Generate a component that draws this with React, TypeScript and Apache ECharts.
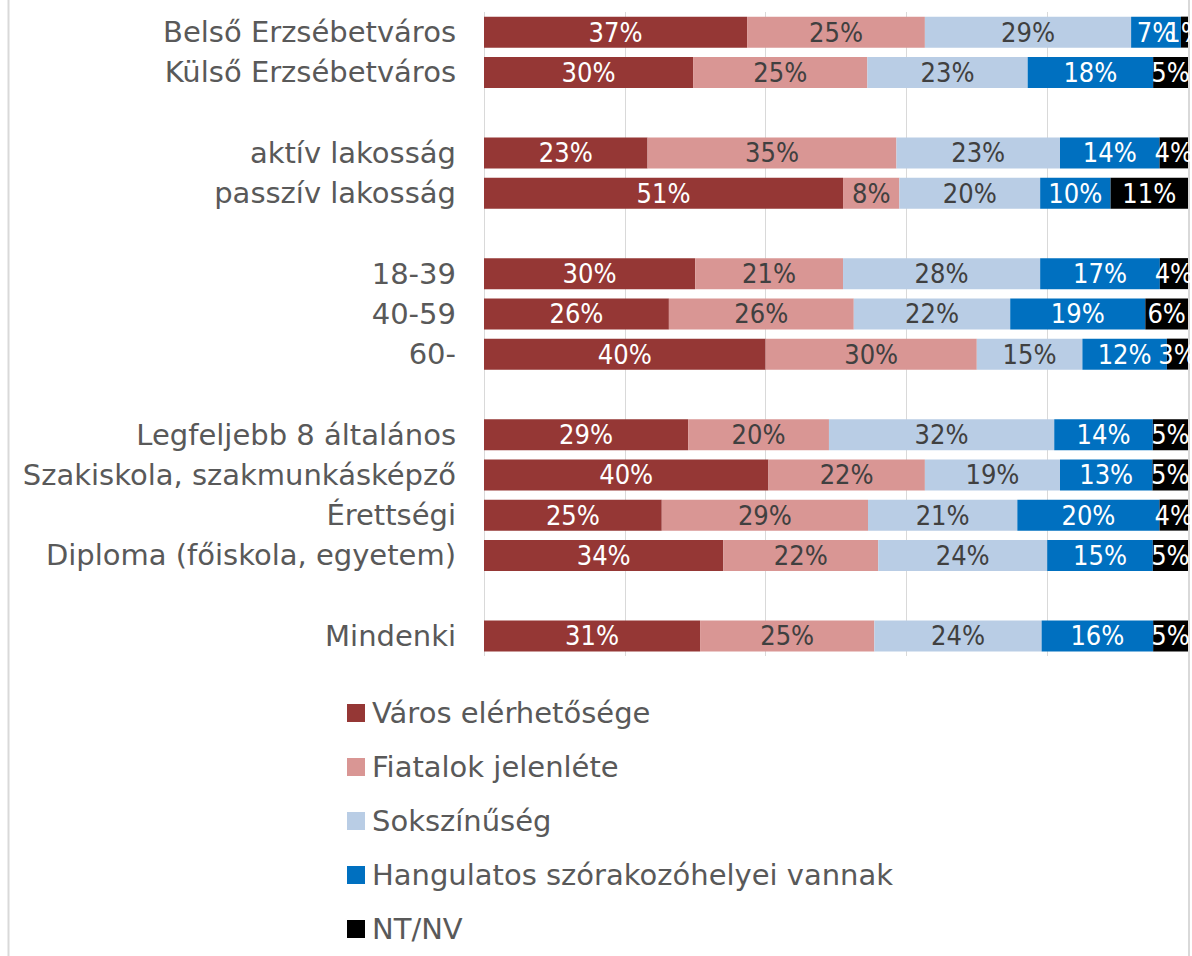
import React, { useEffect, useRef } from "react";
import * as echarts from "echarts";

const categories = [
  "Belső Erzsébetváros",
  "Külső Erzsébetváros",
  "",
  "aktív lakosság",
  "passzív lakosság",
  " ",
  "18-39",
  "40-59",
  "60-",
  "  ",
  "Legfeljebb 8 általános",
  "Szakiskola, szakmunkásképző",
  "Érettségi",
  "Diploma (főiskola, egyetem)",
  "   ",
  "Mindenki",
];

const seriesNames = [
  "Város elérhetősége",
  "Fiatalok jelenléte",
  "Sokszínűség",
  "Hangulatos szórakozóhelyei vannak",
  "NT/NV",
];

const varosElerhetosege = [37, 30, null, 23, 51, null, 30, 26, 40, null, 29, 40, 25, 34, null, 31];
const fiatalokJelenlete = [25, 25, null, 35, 8, null, 21, 26, 30, null, 20, 22, 29, 22, null, 25];
const sokszinuseg = [29, 23, null, 23, 20, null, 28, 22, 15, null, 32, 19, 21, 24, null, 24];
const hangulatos = [7, 18, null, 14, 10, null, 17, 19, 12, null, 14, 13, 20, 15, null, 16];
const ntnv = [1, 5, null, 4, 11, null, 4, 6, 3, null, 5, 5, 4, 5, null, 5];

const colors = ["#953735", "#D99694", "#B9CDE5", "#0070C0", "#000000"];
const labelColors = ["#FFFFFF", "#404040", "#404040", "#FFFFFF", "#FFFFFF"];

export default function App() {
  const ref = useRef<HTMLDivElement>(null);
  useEffect(() => {
    if (!ref.current) return;
    const chart = echarts.init(ref.current, undefined, { renderer: "svg" });
    const all = [varosElerhetosege, fiatalokJelenlete, sokszinuseg, hangulatos, ntnv];
    const totals = categories.map((_, i) =>
      all.reduce((s, arr) => s + (arr[i] == null ? 0 : (arr[i] as number)), 0)
    );
    const series = all.map((arr, si) => ({
      name: seriesNames[si],
      type: "bar",
      stack: "total",
      barWidth: 31,
      itemStyle: { color: colors[si] },
      label: {
        show: true,
        position: "inside",
        color: labelColors[si],
        fontFamily: "DejaVu Sans Condensed",
        fontSize: 27,
        formatter: (p: any) => `${arr[p.dataIndex]}%`,
      },
      labelLayout: { hideOverlap: false },
      data: arr.map((v, i) => (v == null ? null : (v / totals[i]) * 100)),
    }));
    chart.setOption({
      animation: false,
      grid: { left: 484, right: 4, top: 12, bottom: 300, containLabel: false },
      xAxis: {
        type: "value",
        min: 0,
        max: 100,
        interval: 20,
        axisLabel: { show: false },
        axisLine: { show: false },
        axisTick: { show: false },
        splitLine: { show: true, lineStyle: { color: "#D9D9D9", width: 1 } },
      },
      yAxis: {
        type: "category",
        inverse: true,
        data: categories,
        axisLine: { show: false },
        axisTick: { show: false },
        axisLabel: {
          color: "#595959",
          fontSize: 29,
          fontFamily: "DejaVu Sans",
          margin: 28,
        },
      },
      legend: {
        orient: "vertical",
        left: 347,
        top: 698,
        padding: 0,
        itemWidth: 18,
        itemHeight: 18,
        itemGap: 24,
        icon: "rect",
        textStyle: { color: "#595959", fontSize: 29, fontFamily: "DejaVu Sans", lineHeight: 30, padding: [0, 0, 0, 2] },
        data: seriesNames,
      },
      graphic: [
        { type: "line", shape: { x1: 8.5, y1: 0, x2: 8.5, y2: 956 }, style: { stroke: "#D9D9D9", lineWidth: 2 } },
        { type: "line", shape: { x1: 1189, y1: 0, x2: 1189, y2: 956 }, style: { stroke: "#D9D9D9", lineWidth: 2 } },
      ],
      series,
    });
    return () => chart.dispose();
  }, []);
  return (
    <div
      ref={ref}
      style={{ position: "absolute", left: 0, top: 0, width: 1192, height: 956, background: "#fff" }}
    />
  );
}
